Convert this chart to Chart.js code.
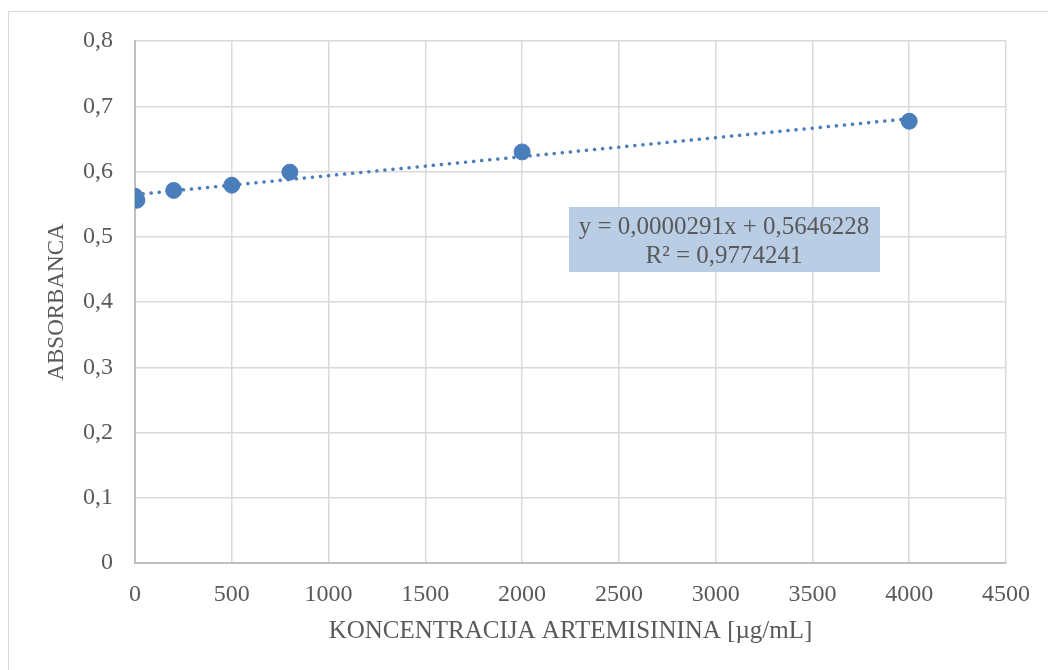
<!DOCTYPE html>
<html lang="en">
<head>
  <meta charset="UTF-8">
  <title>Absorbanca / koncentracija artemisinina</title>
  <script src="https://cdn.jsdelivr.net/npm/chart.js"></script>
  <style>
    html, body {
      margin: 0;
      padding: 0;
      background: #ffffff;
    }
    #wrap {
      position: relative;
      width: 1048px;
      height: 670px;
    }
  </style>
</head>
<body>
  <div id="wrap"><canvas id="chart" width="1048" height="670"></canvas></div>

  <script>
    // values
    const concentration = [0, 10, 200, 500, 800, 2000, 4000];
    const absorbance = [0.562, 0.556, 0.571, 0.579, 0.599, 0.630, 0.677];

    // linear trendline (ends at x = 0 and x = 4000)
    const trendX = [0, 4000];
    const trendY = [0.5646, 0.6810];

    const equationLines = ['y = 0,0000291x + 0,5646228', 'R\u00B2 = 0,9774241'];

    const xTitle = 'KONCENTRACIJA ARTEMISININA [\u00B5g/mL]';
    const yTitle = 'ABSORBANCA';

    const blue = '#4a7ebb';
    const textColor = '#595959';
    const fontFamily = '"Liberation Serif", "DejaVu Serif", serif';

    // outer frame + equation box
    const extras = {
      id: 'extras',
      beforeDraw(chart) {
        const ctx = chart.ctx;
        ctx.save();
        ctx.strokeStyle = '#d9d9d9';
        ctx.lineWidth = 1;
        ctx.strokeRect(8.5, 11.5, 1100, 700);
        ctx.restore();
      },
      afterDraw(chart) {
        const ctx = chart.ctx;
        ctx.save();
        ctx.fillStyle = '#b9cde5';
        ctx.fillRect(569, 207, 311, 65);
        ctx.fillStyle = textColor;
        ctx.font = '25px ' + fontFamily;
        ctx.textAlign = 'center';
        ctx.textBaseline = 'middle';
        ctx.fillText(equationLines[0], 724, 227);
        ctx.fillText(equationLines[1], 724, 256);
        ctx.restore();
      }
    };

    new Chart(document.getElementById('chart'), {
      type: 'scatter',
      data: {
        datasets: [
          {
            label: 'Absorbanca',
            data: concentration.map((x, i) => ({ x: x, y: absorbance[i] })),
            backgroundColor: blue,
            borderColor: blue,
            pointRadius: 8,
            pointHoverRadius: 8,
            order: 2
          },
          {
            label: 'Linear',
            type: 'line',
            data: trendX.map((x, i) => ({ x: x, y: trendY[i] })),
            borderColor: blue,
            borderWidth: 3.5,
            borderDash: [0.1, 8],
            borderCapStyle: 'round',
            pointRadius: 0,
            fill: false,
            order: 1
          }
        ]
      },
      options: {
        responsive: false,
        animation: false,
        layout: { padding: { left: 14, right: 42, top: 41, bottom: 14 } },
        plugins: {
          legend: { display: false },
          tooltip: { enabled: false }
        },
        scales: {
          x: {
            type: 'linear',
            min: 0,
            max: 4500,
            ticks: {
              stepSize: 500,
              color: textColor,
              font: { family: fontFamily, size: 24 },
              padding: 17,
              callback: v => String(v)
            },
            grid: {
              color: ctx => ctx.tick && ctx.tick.value === 0 ? '#bfbfbf' : '#d9d9d9',
              lineWidth: 1.5,
              drawTicks: false
            },
            border: { color: '#bfbfbf', width: 2 },
            title: {
              display: true,
              text: xTitle,
              color: textColor,
              font: { family: fontFamily, size: 25 },
              padding: { top: 8, bottom: 10 }
            },
            afterFit: s => { s.height = 670 - 563 - 14; }
          },
          y: {
            min: 0,
            max: 0.8,
            ticks: {
              stepSize: 0.1,
              color: textColor,
              font: { family: fontFamily, size: 24 },
              padding: 22,
              callback: v => v === 0 ? '0' : v.toFixed(1).replace('.', ',')
            },
            grid: {
              color: '#d9d9d9',
              lineWidth: 1.5,
              drawTicks: false
            },
            border: { color: '#bfbfbf', width: 2 },
            title: {
              display: true,
              text: yTitle,
              color: textColor,
              font: { family: fontFamily, size: 23 },
              padding: { top: 29, bottom: 0 }
            },
            afterFit: s => { s.width = 135 - 14; }
          }
        }
      },
      plugins: [extras]
    });
  </script>
</body>
</html>
